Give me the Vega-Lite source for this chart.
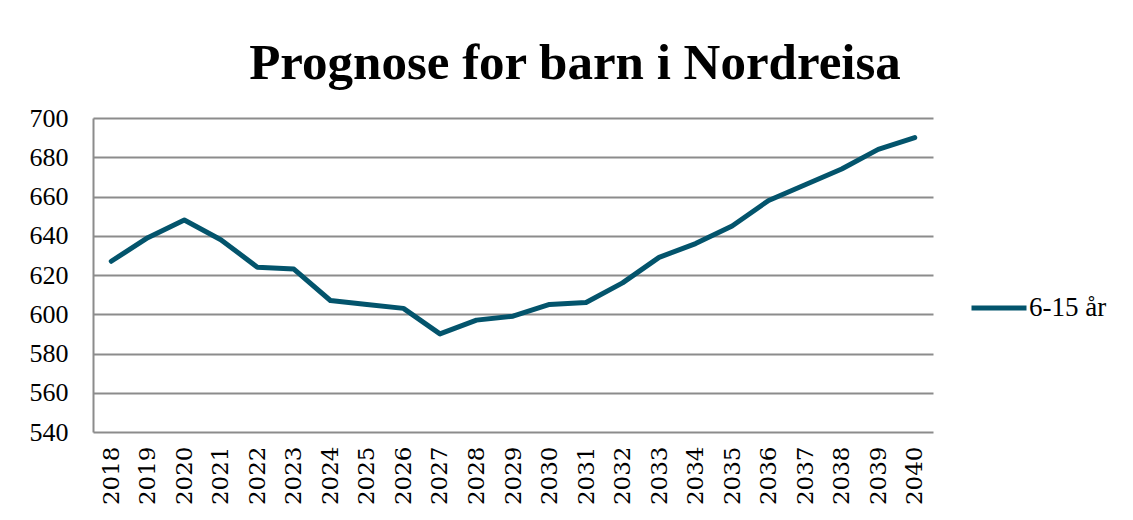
{
  "$schema": "https://vega.github.io/schema/vega-lite/v6.json",
  "autosize": "none",
  "width": 840,
  "height": 314,
  "padding": {"left": 93, "top": 118, "right": 200, "bottom": 88},
  "background": "white",
  "title": {
    "text": "Prognose for barn i Nordreisa",
    "font": "Liberation Serif",
    "fontSize": 51,
    "fontWeight": "bold",
    "color": "#000000",
    "anchor": "middle",
    "baseline": "alphabetic",
    "dx": 62,
    "offset": -25
  },
  "data": {
    "values": [
      {"year": "2018", "value": 627, "serie": "6-15 år"},
      {"year": "2019", "value": 639, "serie": "6-15 år"},
      {"year": "2020", "value": 648, "serie": "6-15 år"},
      {"year": "2021", "value": 638, "serie": "6-15 år"},
      {"year": "2022", "value": 624, "serie": "6-15 år"},
      {"year": "2023", "value": 623, "serie": "6-15 år"},
      {"year": "2024", "value": 607, "serie": "6-15 år"},
      {"year": "2025", "value": 605, "serie": "6-15 år"},
      {"year": "2026", "value": 603, "serie": "6-15 år"},
      {"year": "2027", "value": 590, "serie": "6-15 år"},
      {"year": "2028", "value": 597, "serie": "6-15 år"},
      {"year": "2029", "value": 599, "serie": "6-15 år"},
      {"year": "2030", "value": 605, "serie": "6-15 år"},
      {"year": "2031", "value": 606, "serie": "6-15 år"},
      {"year": "2032", "value": 616, "serie": "6-15 år"},
      {"year": "2033", "value": 629, "serie": "6-15 år"},
      {"year": "2034", "value": 636, "serie": "6-15 år"},
      {"year": "2035", "value": 645, "serie": "6-15 år"},
      {"year": "2036", "value": 658, "serie": "6-15 år"},
      {"year": "2037", "value": 666, "serie": "6-15 år"},
      {"year": "2038", "value": 674, "serie": "6-15 år"},
      {"year": "2039", "value": 684, "serie": "6-15 år"},
      {"year": "2040", "value": 690, "serie": "6-15 år"}
    ]
  },
  "mark": {"type": "line", "strokeWidth": 5, "strokeCap": "round", "strokeJoin": "round"},
  "encoding": {
    "x": {
      "field": "year",
      "type": "ordinal",
      "scale": {"type": "point", "padding": 0.5},
      "axis": {
        "title": null,
        "labelAngle": -90,
        "labelAlign": "right",
        "labelBaseline": "middle",
        "labelFont": "DejaVu Serif",
        "labelFontSize": 23,
        "labelColor": "#000000",
        "labelPadding": 14,
        "ticks": false,
        "domain": false,
        "grid": false
      }
    },
    "y": {
      "field": "value",
      "type": "quantitative",
      "scale": {"domain": [540, 700], "nice": false, "zero": false},
      "axis": {
        "title": null,
        "values": [540, 560, 580, 600, 620, 640, 660, 680, 700],
        "labelFont": "Liberation Serif",
        "labelFontSize": 26,
        "labelColor": "#000000",
        "labelPadding": 25,
        "ticks": false,
        "domain": true,
        "domainColor": "#8c8c8c",
        "domainWidth": 2,
        "grid": true,
        "gridColor": "#8c8c8c",
        "gridWidth": 2
      }
    },
    "color": {
      "field": "serie",
      "type": "nominal",
      "scale": {"range": ["#03546C"]},
      "legend": {
        "title": null,
        "orient": "none",
        "legendX": 876,
        "legendY": 160,
        "symbolType": "stroke",
        "symbolSize": 3025,
        "symbolStrokeWidth": 5,
        "labelFont": "Liberation Serif",
        "labelFontSize": 27,
        "labelColor": "#000000",
        "labelOffset": 0
      }
    }
  },
  "config": {
    "view": {"stroke": null}
  }
}
